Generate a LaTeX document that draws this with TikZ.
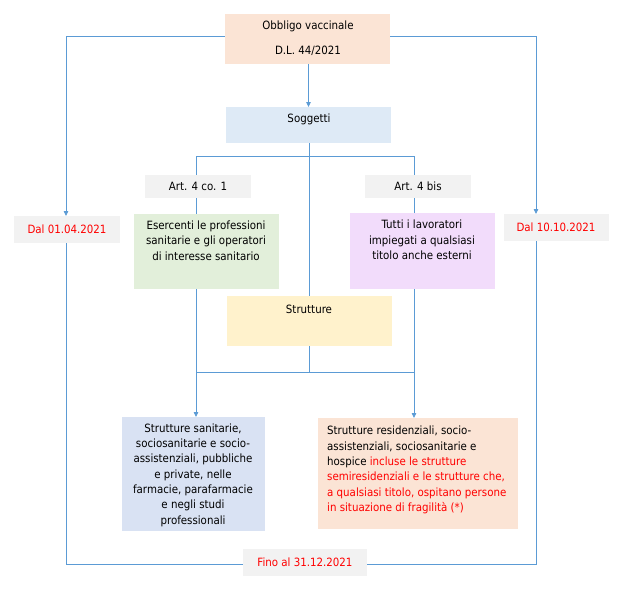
\documentclass[tikz,border=0pt]{standalone}
\usepackage{fontspec}
\setmainfont{DejaVu Sans Condensed}
\usetikzlibrary{arrows.meta,backgrounds}
\definecolor{ln}{HTML}{5B9BD5}
\definecolor{peach}{HTML}{FBE4D5}
\definecolor{lblue}{HTML}{DEEAF6}
\definecolor{lgreen}{HTML}{E2EFDA}
\definecolor{lpurple}{HTML}{F2DCFB}
\definecolor{lyellow}{HTML}{FFF2CC}
\definecolor{sblue}{HTML}{D9E2F3}
\definecolor{lgray}{HTML}{F2F2F2}
\definecolor{rtxt}{HTML}{FF0000}
\begin{document}
\begin{tikzpicture}[x=1pt,y=-1pt,
  font=\fontsize{11.4}{15.3}\selectfont,
  box/.style={inner sep=0pt, outer sep=0pt, anchor=north west},
  txt/.style={inner sep=0pt, align=center},
  conn/.style={draw=ln, line width=0.8pt},
  arr/.style={conn, -{Triangle[length=5pt,width=4.5pt]}}]
\useasboundingbox (0,0) rectangle (630,597);
% boxes
\node[box, fill=peach, minimum width=165, minimum height=50] (top) at (225,14) {};
\node[box, fill=lblue, minimum width=165, minimum height=36] (sogg) at (226,107) {};
\node[box, fill=lgray, minimum width=106, minimum height=23] (art1) at (145,175) {};
\node[box, fill=lgray, minimum width=106, minimum height=23] (art2) at (365,175) {};
\node[box, fill=lgreen, minimum width=145, minimum height=75] (green) at (134,214) {};
\node[box, fill=lpurple, minimum width=145, minimum height=76] (purple) at (350,213) {};
\node[box, fill=lgray, minimum width=106, minimum height=27] (dal1) at (14,216) {};
\node[box, fill=lgray, minimum width=105, minimum height=27] (dal2) at (504,214) {};
\node[box, fill=lyellow, minimum width=165, minimum height=50] (strutt) at (227,296) {};
\node[box, fill=sblue, minimum width=143, minimum height=114] (sanit) at (122,417) {};
\node[box, fill=peach, minimum width=200, minimum height=111] (resid) at (318,418) {};
\node[box, fill=lgray, minimum width=124, minimum height=27] (fino) at (243,549) {};
% texts
\node[txt] (t1) at (308,26) {Obbligo vaccinale};
\node[txt] (t2) at (308,51) {D.L. 44/2021};
\node[txt] (t3) at (309,119) {Soggetti};
\node[txt] (t4) at (198,186) {Art. 4 co. 1};
\node[txt] (t5) at (418,186) {Art. 4 bis};
\node[txt, text=rtxt] (t6) at (67,229) {Dal 01.04.2021};
\node[txt, text=rtxt] (t7) at (556,227) {Dal 10.10.2021};
\node[txt] (t8) at (206,240.5) {Esercenti le professioni\\sanitarie e gli operatori\\di interesse sanitario};
\node[txt] (t9) at (422,240) {Tutti i lavoratori\\impiegati a qualsiasi\\titolo anche esterni};
\node[txt] (t10) at (309,309) {Strutture};
\node[txt] (t11) at (193,475) {Strutture sanitarie,\\sociosanitarie e socio-\\assistenziali, pubbliche\\e private, nelle\\farmacie, parafarmacie\\e negli studi\\professionali};
\node[txt, align=left, anchor=west] (t12) at (327,470) {Strutture residenziali, socio-\\assistenziali, sociosanitarie e\\hospice \textcolor{rtxt}{incluse le strutture}\\\textcolor{rtxt}{semiresidenziali e le strutture che,}\\\textcolor{rtxt}{a qualsiasi titolo, ospitano persone}\\\textcolor{rtxt}{in situazione di fragilità (*)}};
\node[txt, text=rtxt] (t13) at (305,562) {Fino al 31.12.2021};
% connectors
\coordinate (jl) at (66,36);
\coordinate (jr) at (536,36);
\coordinate (bl) at (66,564);
\coordinate (br) at (536,564);
\coordinate (hl) at (196,156);
\coordinate (hr) at (414,156);
\coordinate (hm) at (309,156);
\coordinate (ll) at (196,372);
\coordinate (lr) at (414,372);
\coordinate (lm) at (309,372);
\begin{scope}[on background layer]
\draw[arr] (top.west |- jl) -- (jl) -- (jl |- dal1.north);
\draw[arr] (top.east |- jr) -- (jr) -- (jr |- dal2.north);
\draw[conn] (jl |- dal1.south) -- (bl) -- (fino.west |- bl);
\draw[conn] (jr |- dal2.south) -- (br) -- (fino.east |- br);
\draw[arr] (top.south -| sogg.south) -- (sogg.north);
\draw[conn] (sogg.south -| lm) -- (lm);
\draw[conn] (hl) -- (hr);
\draw[conn] (ll) -- (lr);
\draw[arr] (hl) -- (hl |- sanit.north);
\draw[arr] (hr) -- (hr |- resid.north);
\end{scope}
\end{tikzpicture}
\end{document}
